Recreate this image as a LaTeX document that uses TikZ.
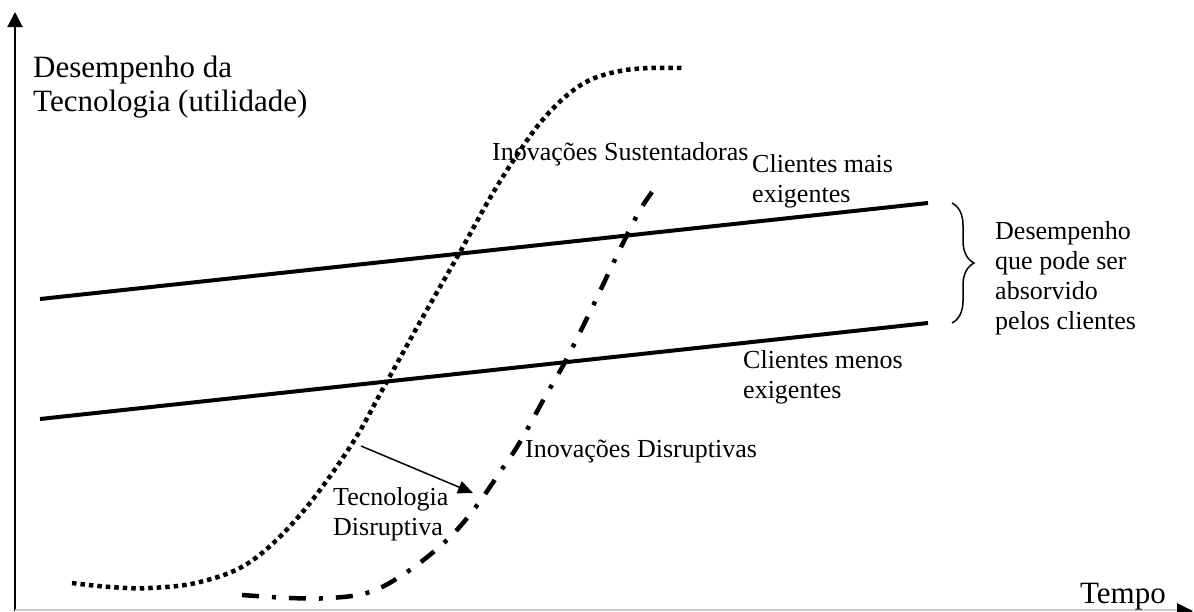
\documentclass[tikz,border=0pt]{standalone}
\usepackage{fontspec}
\setmainfont{Liberation Serif}
\usetikzlibrary{arrows.meta,decorations.pathreplacing}
\begin{document}
\begin{tikzpicture}[x=1pt,y=-1pt,
  lbl/.style={font=\fontsize{26}{30}\selectfont, inner sep=0pt, align=left},
  ttl/.style={font=\fontsize{31}{34}\selectfont, inner sep=0pt, align=left},
  demand/.style={line width=4pt},
  sustain/.style={line width=4.5pt, dash pattern=on 4.5pt off 4pt},
  disrupt/.style={line width=4.5pt, dash pattern=on 17pt off 13pt on 4pt off 13pt},
  pointer/.style={line width=1.5pt, -{Triangle[length=15pt,width=13pt]}}]
\useasboundingbox (0,0) rectangle (1194,611);
\clip (0,0) rectangle (1194,611);

% axes
\coordinate (yb) at (15,611);
\coordinate (yt) at (15,12);
\draw[line width=2pt, -{Triangle[length=15pt,width=15pt]}] (yb) -- (yt);
\coordinate (xo) at (15,610);
\coordinate (xe) at (1178,610);
\draw[gray!40, line width=1.2pt] (xo) -- (xe);
\fill (1177,603) -- (1193,611) -- (1177,619) -- cycle;

% customer demand trajectories
\coordinate (hiA) at (40,299);
\coordinate (hiB) at (928,203);
\coordinate (loA) at (40,419);
\coordinate (loB) at (928,323);
\draw[demand] (hiA) -- (hiB);
\draw[demand] (loA) -- (loB);

% sustaining innovation curve
\draw[sustain] plot[smooth, tension=0.6] coordinates {
  (72,583) (110,587) (150,588) (200,582) (250,562) (300,515) (350,447)
  (385,385) (420,322) (460,252) (490,198) (515,158) (540,123) (565,97)
  (590,80) (620,71) (650,68) (683,68)};

% disruptive innovation curve
\draw[disrupt] plot[smooth, tension=0.6] coordinates {
  (242,595) (290,598) (330,598) (370,592) (407,572) (447,540) (475,508)
  (500,472) (520,442) (545,397) (565,362) (590,312) (610,270) (627,235)
  (640,210) (652,192)};

% jump from one curve to the other
\coordinate (jumpA) at (361,446);
\coordinate (jumpB) at (473,493);
\draw[pointer] (jumpA) -- (jumpB);

% brace for the absorbable performance band
\coordinate (brT) at (952,203);
\coordinate (brB) at (952,323);
\draw[line width=1.5pt, decorate, decoration={brace, amplitude=22pt}] (brT) -- (brB);

% labels (base anchors sit on the last line of each node)
\node[ttl, anchor=base west] (title) at (33,111) {Desempenho da\\Tecnologia (utilidade)};
\node[lbl, anchor=base west] (sus) at (492,160) {Inovações Sustentadoras};
\node[lbl, anchor=base west] (himsg) at (752,202) {Clientes mais\\exigentes};
\node[lbl, anchor=base west] (band) at (995,329) {Desempenho\\que pode ser\\absorvido\\pelos clientes};
\node[lbl, anchor=base west] (lomsg) at (743,398) {Clientes menos\\exigentes};
\node[lbl, anchor=base west] (dis) at (525,457) {Inovações Disruptivas};
\node[lbl, anchor=base west] (tec) at (333,535) {Tecnologia\\Disruptiva};
\node[ttl, anchor=base east] (time) at (1166,603) {Tempo};
\end{tikzpicture}
\end{document}
